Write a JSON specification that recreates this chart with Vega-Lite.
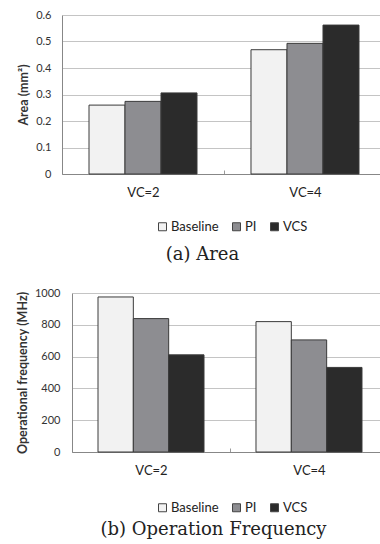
{
  "$schema": "https://vega.github.io/schema/vega-lite/v6.json",
  "padding": {"left": 16, "top": 9, "right": 0, "bottom": 0},
  "background": "white",
  "datasets": {
    "area": [
      {"config": "VC=2", "design": "Baseline", "value": 0.26},
      {"config": "VC=2", "design": "PI", "value": 0.274},
      {"config": "VC=2", "design": "VCS", "value": 0.306},
      {"config": "VC=4", "design": "Baseline", "value": 0.469},
      {"config": "VC=4", "design": "PI", "value": 0.493},
      {"config": "VC=4", "design": "VCS", "value": 0.562}
    ],
    "freq": [
      {"config": "VC=2", "design": "Baseline", "value": 975},
      {"config": "VC=2", "design": "PI", "value": 839},
      {"config": "VC=2", "design": "VCS", "value": 611},
      {"config": "VC=4", "design": "Baseline", "value": 820},
      {"config": "VC=4", "design": "PI", "value": 705},
      {"config": "VC=4", "design": "VCS", "value": 532}
    ]
  },
  "vconcat": [
    {
      "width": 319,
      "height": 159,
      "data": {"name": "area"},
      "title": {"text": "(a) Area", "orient": "bottom", "dx": -19, "offset": 12},
      "mark": {"type": "bar", "stroke": "#3a3a3a", "strokeWidth": 1},
      "encoding": {
        "x": {
          "field": "config", "type": "nominal", "sort": ["VC=2", "VC=4"],
          "scale": {"range": [0, 324], "paddingInner": 0.3333, "paddingOuter": 0.1667},
          "axis": {"title": null, "labelAngle": 0, "bandPosition": 0, "tickOffset": -27, "labelOffset": 27, "tickSize": -4, "labelPadding": 16}
        },
        "xOffset": {"field": "design", "type": "nominal", "sort": ["Baseline", "PI", "VCS"], "scale": {"paddingInner": 0, "paddingOuter": 0}},
        "y": {
          "field": "value", "type": "quantitative",
          "scale": {"domain": [0, 0.6], "nice": false},
          "axis": {"title": "Area (mm²)", "values": [0, 0.1, 0.2, 0.3, 0.4, 0.5, 0.6], "format": ".1~f", "labelPadding": 11, "titlePadding": 4, "minExtent": 28, "maxExtent": 28}
        },
        "color": {
          "field": "design", "type": "nominal", "sort": ["Baseline", "PI", "VCS"],
          "scale": {"domain": ["Baseline", "PI", "VCS"], "range": ["#f2f2f2", "#8d8d91", "#2b2b2b"]},
          "legend": {"orient": "none", "legendX": 94, "legendY": 205, "direction": "horizontal", "title": null}
        }
      }
    },
    {
      "width": 319,
      "height": 159,
      "data": {"name": "freq"},
      "title": {"text": "(b) Operation Frequency", "orient": "bottom", "dx": -8, "offset": 6},
      "mark": {"type": "bar", "stroke": "#3a3a3a", "strokeWidth": 1},
      "encoding": {
        "x": {
          "field": "config", "type": "nominal", "sort": ["VC=2", "VC=4"],
          "scale": {"range": [10, 326], "paddingInner": 0.329, "paddingOuter": 0.1646},
          "axis": {"title": null, "labelAngle": 0, "bandPosition": 0, "tickOffset": -26, "labelOffset": 26, "tickSize": -4, "labelPadding": 16}
        },
        "xOffset": {"field": "design", "type": "nominal", "sort": ["Baseline", "PI", "VCS"], "scale": {"paddingInner": 0, "paddingOuter": 0}},
        "y": {
          "field": "value", "type": "quantitative",
          "scale": {"domain": [0, 1000], "nice": false},
          "axis": {"title": "Operational frequency (MHz)", "values": [0, 200, 400, 600, 800, 1000], "format": "d", "offset": -10, "labelPadding": 12, "titlePadding": 5.5, "minExtent": 37, "maxExtent": 37}
        },
        "color": {
          "field": "design", "type": "nominal", "sort": ["Baseline", "PI", "VCS"],
          "scale": {"domain": ["Baseline", "PI", "VCS"], "range": ["#f2f2f2", "#8d8d91", "#2b2b2b"]},
          "legend": {"orient": "none", "legendX": 94, "legendY": 208, "direction": "horizontal", "title": null}
        }
      }
    }
  ],
  "spacing": 23,
  "resolve": {
    "scale": {"x": "independent", "y": "independent", "color": "independent", "xOffset": "independent"},
    "legend": {"color": "independent"},
    "axis": {"x": "independent", "y": "independent"}
  },
  "config": {
    "view": {"stroke": null},
    "font": "Lato",
    "axis": {
      "labelFont": "Lato", "labelFontSize": 11, "labelColor": "#333333",
      "titleFont": "Lato", "titleFontSize": 12.5, "titleFontWeight": "bold", "titleColor": "#333333",
      "domainColor": "#878787", "domainWidth": 1,
      "gridColor": "#c4c4c4", "gridWidth": 1,
      "tickColor": "#9a9a9a", "tickWidth": 1
    },
    "axisY": {"ticks": false, "grid": true, "domain": true},
    "axisX": {"grid": false, "labelFontSize": 13, "labelColor": "#222222"},
    "legend": {
      "symbolType": "square", "symbolSize": 64, "symbolStrokeColor": "#444444", "symbolStrokeWidth": 1,
      "labelFont": "Lato", "labelFontSize": 13, "labelColor": "#222222",
      "labelOffset": 2, "columnPadding": 11, "padding": 0
    },
    "title": {"font": "DejaVu Serif", "fontSize": 18, "fontWeight": "normal", "color": "#222222"}
  }
}
